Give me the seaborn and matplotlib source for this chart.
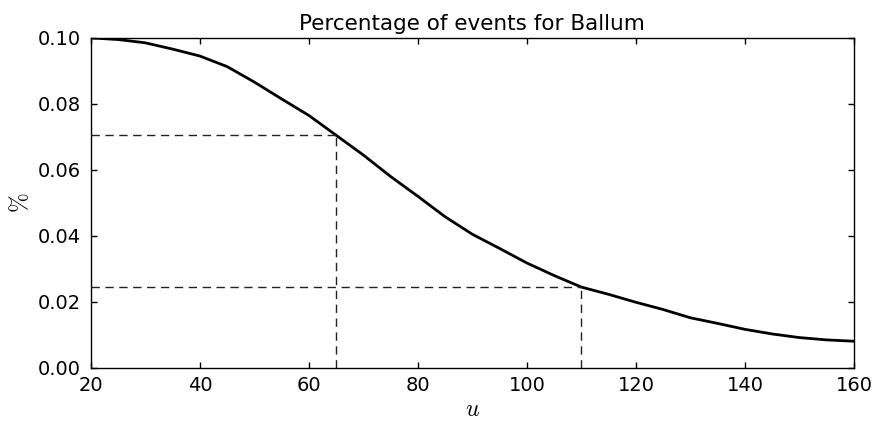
import matplotlib
matplotlib.use("Agg")
import matplotlib.pyplot as plt
import seaborn as sns
import numpy as np
import pandas as pd

# Threshold u and the share of events exceeding it
u_values = [20, 25, 30, 35, 40, 45, 50, 55, 60, 65, 70, 75, 80, 85, 90, 95,
            100, 105, 110, 115, 120, 125, 130, 135, 140, 145, 150, 155, 160]
pct_values = [0.1000, 0.0995, 0.0985, 0.0966, 0.0945, 0.0913, 0.0866, 0.0815,
              0.0765, 0.0705, 0.0645, 0.0580, 0.0520, 0.0458, 0.0405, 0.0362,
              0.0318, 0.0280, 0.0245, 0.0223, 0.0199, 0.0177, 0.0152, 0.0135,
              0.0117, 0.0103, 0.0092, 0.0085, 0.0081]

# Reference thresholds marked with dashed guides
marker_u = [65, 110]
marker_pct = [0.0705, 0.0245]

x_ticks = [20, 40, 60, 80, 100, 120, 140, 160]
y_ticks = [0.00, 0.02, 0.04, 0.06, 0.08, 0.10]

sns.set_style("ticks")
plt.rcParams.update({
    "font.family": ["DejaVu Sans"],
    "mathtext.fontset": "cm",
    "text.color": "black",
    "axes.labelcolor": "black",
    "xtick.color": "black",
    "ytick.color": "black",
    "xtick.direction": "in",
    "ytick.direction": "in",
    "xtick.top": True,
    "ytick.right": True,
    "xtick.major.size": 4,
    "ytick.major.size": 4,
    "axes.linewidth": 1.0,
    "axes.edgecolor": "black",
})

df = pd.DataFrame({"u": u_values, "pct": pct_values})

fig = plt.figure(figsize=(8.74, 4.21), dpi=100)
ax = fig.add_axes([0.104, 0.126, 0.873, 0.784])

sns.lineplot(data=df, x="u", y="pct", ax=ax, color="black", linewidth=2)

for mu, mp in zip(marker_u, marker_pct):
    ax.plot([x_ticks[0], mu], [mp, mp], color="#222222", linestyle="--",
            linewidth=1, dashes=(6, 4))
    ax.plot([mu, mu], [0, mp], color="#222222", linestyle="--",
            linewidth=1, dashes=(6, 4))

ax.set_xlim(20, 160)
ax.set_ylim(0, 0.10)
ax.set_xticks(x_ticks)
ax.set_yticks(y_ticks)
ax.set_xticklabels([str(t) for t in x_ticks])
ax.set_yticklabels([f"{t:.2f}" for t in y_ticks])
ax.tick_params(labelsize=14, width=1)
ax.tick_params(axis="x", pad=6)
ax.tick_params(axis="y", pad=7)

ax.set_title("Percentage of events for Ballum", fontsize=15.5, pad=6)
ax.set_xlabel("$u$", fontsize=17, labelpad=1)
ax.set_ylabel(r"$\%$", fontsize=17, labelpad=4)

fig.savefig("out.png", dpi=100)
